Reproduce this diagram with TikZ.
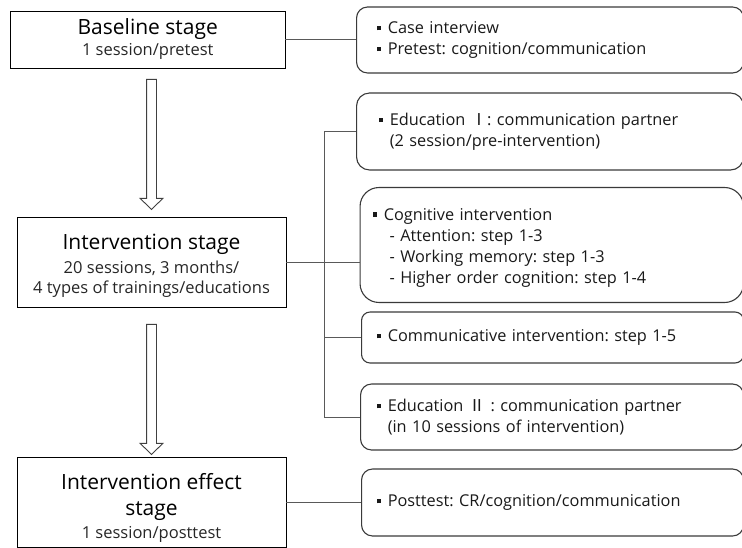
\documentclass[tikz,border=0pt]{standalone}
\usepackage{fontspec}
\setmainfont{Open Sans}
\newfontfamily\cjk{Noto Sans CJK KR}
\usetikzlibrary{shapes.arrows}
\frenchspacing

\definecolor{linegray}{HTML}{595959}
\definecolor{boxgray}{HTML}{3A3A3A}

\newcommand{\sqb}{\rule[0.2em]{0.27em}{0.27em}\hspace{0.42em}}
\newcommand{\ind}{\hspace{0.69em}}
\newcommand{\ttl}[1]{{\fontsize{21}{25}\selectfont\color{black}#1}}

\tikzset{
  stage/.style={draw=black, line width=0.9pt, minimum width=269, minimum height=90, align=center, text=black!85, font=\fontsize{16.5}{20}\selectfont},
  item/.style={draw=boxgray, line width=1.1pt, anchor=west, align=left, text=black!90, font=\fontsize{16.3}{20.6}\selectfont},
  link/.style={draw=linegray, line width=0.9pt},
  flow/.style={single arrow, draw=black!75, line width=0.9pt, fill=white, shape border rotate=270, inner sep=4.5pt, single arrow head extend=6.5pt, single arrow tip angle=92, minimum height=130}
}

\begin{document}
\begin{tikzpicture}[x=1pt, y=-1pt]
    \useasboundingbox (0,0) rectangle (742,548);

    % Stages (left)
    \node[stage, minimum width=274.5, minimum height=57] (base) at (147.75,39.5) {\ttl{Baseline stage}\\[1pt]1 session/pretest};
    \node[stage] (inter) at (151.5,262) {\ttl{\rule{0pt}{23.5pt}Intervention stage}\\[4pt]20 sessions, 3 months/\\4 types of trainings/educations};
    \node[stage] (effect) at (151.5,502) {\ttl{\rule{0pt}{28pt}Intervention effect}\\[6pt]\ttl{stage}\\[3pt]1 session/posttest};

    % Block arrows between stages
    \node[flow] (a1) at (151.5,142) {};
    \node[flow] (a2) at (151.5,387) {};

    % Contents (right)
    \node[item, minimum height=66, text width=347, inner xsep=20, rounded corners=11] (pre) at (356,40) {\sqb Case interview\\\sqb Pretest: cognition/communication};
    \node[item, minimum height=77, text width=343, inner xsep=22, rounded corners=13] (edu1) at (356,131.5) {\sqb Education {\cjk Ⅰ}: communication partner\\\ind(2 session/pre-intervention)};
    \node[item, minimum height=115, text width=358.5, inner xsep=12.5, rounded corners=19] (cog) at (359.5,245) {\rule{0pt}{18pt}\sqb Cognitive intervention\\[0.7pt]\hspace{1.05em}- Attention: step 1-3\\[0.7pt]\hspace{1.05em}- Working memory: step 1-3\\[0.7pt]\hspace{1.05em}- Higher order cognition: step 1-4};
    \node[item, minimum height=51, text width=352, inner xsep=15, rounded corners=8.5] (comm) at (361,337.5) {\sqb Communicative intervention: step 1-5};
    \node[item, minimum height=66, text width=351, inner xsep=16, rounded corners=11] (edu2) at (360,417) {\sqb Education {\cjk Ⅱ} : communication partner\\\ind(in 10 sessions of intervention)};
    \node[item, minimum height=67, text width=352, inner xsep=15, rounded corners=11] (post) at (361,502.5) {\sqb Posttest: CR/cognition/communication};

    % Connectors
    \coordinate (brk) at (324.5,0);
    \draw[link] (base.east) -- (base.east -| pre.west);
    \draw[link] (inter.east) -- (inter.east -| cog.west);
    \draw[link] (edu1.west) -| (brk |- edu2.west) -- (edu2.west);
    \draw[link] (comm.west) -- (comm.west -| brk);
    \draw[link] (effect.east) -- (effect.east -| post.west);

\end{tikzpicture}
\end{document}
